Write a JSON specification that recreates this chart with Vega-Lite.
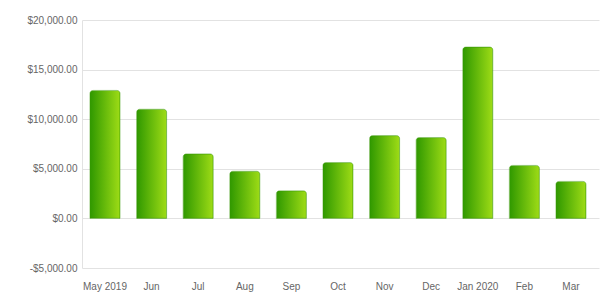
{
  "$schema": "https://vega.github.io/schema/vega-lite/v6.json",
  "autosize": "none",
  "padding": {"left": 82, "top": 20, "right": 1, "bottom": 40},
  "width": 517,
  "height": 248,
  "config": {
    "view": {"stroke": null},
    "font": "Liberation Sans"
  },
  "data": {
    "values": [
      {"month": "May 2019", "amount": 12900},
      {"month": "Jun", "amount": 11000},
      {"month": "Jul", "amount": 6500},
      {"month": "Aug", "amount": 4750},
      {"month": "Sep", "amount": 2780},
      {"month": "Oct", "amount": 5630},
      {"month": "Nov", "amount": 8350},
      {"month": "Dec", "amount": 8150},
      {"month": "Jan 2020", "amount": 17270},
      {"month": "Feb", "amount": 5340},
      {"month": "Mar", "amount": 3730}
    ]
  },
  "mark": {
    "type": "bar",
    "cornerRadiusTopLeft": 3,
    "cornerRadiusTopRight": 3,
    "stroke": "#3a9a08",
    "strokeWidth": 0.6,
    "strokeOpacity": 0.8,
    "fill": {
      "x1": 0, "y1": 0, "x2": 1, "y2": 0,
      "gradient": "linear",
      "stops": [
        {"offset": 0, "color": "#2f9800"},
        {"offset": 1, "color": "#9edc16"}
      ]
    }
  },
  "encoding": {
    "x": {
      "field": "month",
      "type": "ordinal",
      "sort": null,
      "scale": {"paddingInner": 0.355, "paddingOuter": 0.225, "align": 0.38},
      "axis": {
        "title": null,
        "labelAngle": 0,
        "ticks": false,
        "domain": false,
        "labelPadding": 13,
        "labelFontSize": 10,
        "labelColor": "#666666",
        "labelFont": "Liberation Sans"
      }
    },
    "y": {
      "field": "amount",
      "type": "quantitative",
      "scale": {"domain": [-5000, 20000], "nice": false, "zero": false},
      "axis": {
        "title": null,
        "values": [-5000, 0, 5000, 10000, 15000, 20000],
        "labelExpr": "replace(format(datum.value, '$,.2f'), '\u2212', '-')",
        "ticks": false,
        "domain": true,
        "domainColor": "#e2e2e2",
        "gridColor": "#e2e2e2",
        "labelPadding": 5,
        "labelFontSize": 10,
        "labelColor": "#666666",
        "labelFont": "Liberation Sans"
      }
    }
  }
}
